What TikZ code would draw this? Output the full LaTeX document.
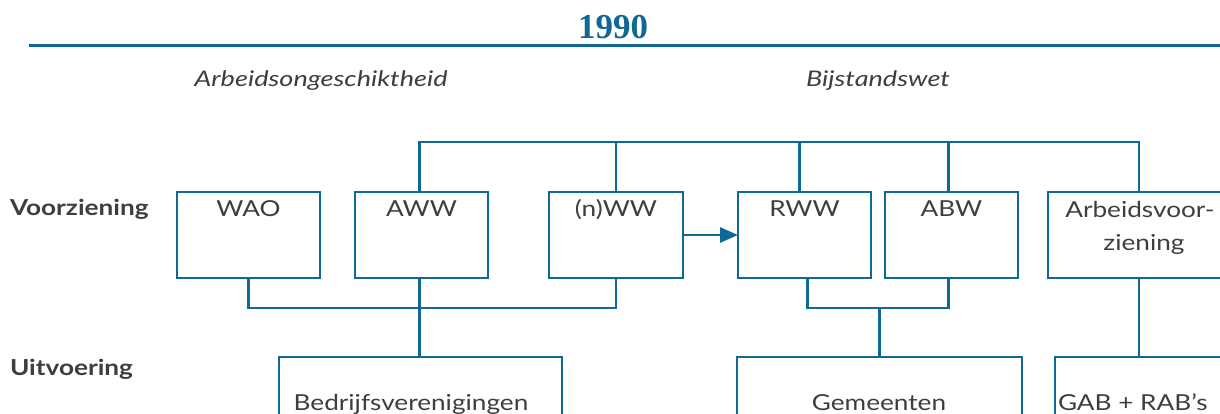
\documentclass[tikz,border=0pt]{standalone}
\usepackage{fontspec}
\setmainfont{Lato}[FakeStretch=1.19]
\newfontfamily\headfont{Lato}[FakeStretch=1.26]
\newfontfamily\titlefont{Liberation Serif}
\usetikzlibrary{arrows.meta,calc}
\definecolor{dblue}{HTML}{106994}
\definecolor{tgray}{HTML}{3E3E3E}
\begin{document}
\begin{tikzpicture}[x=1pt,y=-1pt,
  box/.style={draw=dblue, line width=2.9pt, minimum width=#1, minimum height=86pt,
    anchor=north west, inner sep=0pt, outer sep=0pt},
  lowbox/.style={draw=dblue, line width=2.9pt, minimum width=#1, minimum height=100pt,
    anchor=north west, inner sep=0pt, outer sep=0pt},
  conn/.style={draw=dblue, line width=2.9pt},
  txt/.style={text=tgray, inner sep=0pt, outer sep=0pt, font=\fontsize{22}{26}\selectfont},
  head/.style={text=tgray, inner sep=0pt, outer sep=0pt, font=\headfont\fontsize{21.5}{26}\selectfont\itshape},
  rowlab/.style={text=tgray, inner sep=0pt, outer sep=0pt, anchor=base west, font=\fontsize{22}{26}\selectfont\bfseries}]
\useasboundingbox (0,0) rectangle (1220,414);
\clip (0,0) rectangle (1220,414);
\fill[white] (0,0) rectangle (1220,414);

% title and rule
\node[anchor=base, text=dblue, inner sep=0pt, font=\titlefont\bfseries\fontsize{35}{36}\selectfont] (title) at (613,39) {1990};
\coordinate (ruleL) at (29,45.5);
\coordinate (ruleR) at (1225,45.5);
\draw[dblue, line width=3pt] (ruleL) -- (ruleR);

% headings
\node[head, anchor=base] (hA) at (321,87) {Arbeidsongeschiktheid};
\node[head, anchor=base] (hB) at (878,87) {Bijstandswet};

% row labels
\node[rowlab] (lv) at (10,215) {Voorziening};
\node[rowlab] (lu) at (10,375) {Uitvoering};

% upper boxes
\node[box=143pt] (wao) at (177,192) {};
\node[box=133pt] (aww) at (355,192) {};
\node[box=134pt] (nww) at (549,192) {};
\node[box=133pt] (rww) at (738,192) {};
\node[box=133pt] (abw) at (885,192) {};
\node[box=182pt] (arb) at (1048,192) {};

\node[txt, anchor=base] (waot) at ([yshift=-24pt]wao.north) {WAO};
\node[txt, anchor=base] (awwt) at ([yshift=-24pt]aww.north) {AWW};
\node[txt, anchor=base] (nwwt) at ([yshift=-24pt]nww.north) {(n)WW};
\node[txt, anchor=base] (rwwt) at ([yshift=-24pt]rww.north) {RWW};
\node[txt, anchor=base] (abwt) at ([yshift=-24pt]abw.north) {ABW};
\node[txt, anchor=base] (arbt1) at (1140,217) {Arbeidsvoor-};
\node[txt, anchor=base] (arbt2) at (1144,250) {ziening};

% lower boxes
\node[lowbox=283pt] (bedr) at (279,357) {};
\node[lowbox=285pt] (gem) at (737,357) {};
\node[lowbox=168pt] (gab) at (1055,357) {};

\node[txt, anchor=base] (bedrt) at (411,410) {Bedrijfsverenigingen};
\node[txt, anchor=base] (gemt) at (879,410) {Gemeenten};
\node[txt, anchor=base west] (gabt) at (1058,410) {GAB + RAB’s};

% bus coordinates
\coordinate (tb) at (0,142);
\coordinate (bb) at (0,308);

% top bus
\coordinate (awwN) at ([xshift=-2pt]aww.north);
\coordinate (rwwN) at ([xshift=-5pt]rww.north);
\coordinate (abwN) at ([xshift=-3pt]abw.north);
\draw[conn] (awwN) -- (awwN |- tb) -- (arb.north |- tb) -- (arb.north);
\draw[conn] (nww.north) -- (nww.north |- tb);
\draw[conn] (rwwN) -- (rwwN |- tb);
\draw[conn] (abwN) -- (abwN |- tb);

% bottom bus left
\coordinate (awwS) at ([xshift=-2pt]aww.south);
\draw[conn] (wao.south) -- (wao.south |- bb) -- (nww.south |- bb) -- (nww.south);
\draw[conn] (awwS) -- (awwS |- bedr.north);

% bottom bus right
\coordinate (rwwS) at ([xshift=3pt]rww.south);
\coordinate (abwS) at ([xshift=-3pt]abw.south);
\draw[conn] (rwwS) -- (rwwS |- bb) -- (abwS |- bb) -- (abwS);
\draw[conn] (gem.north |- bb) -- (gem.north);

% Arbeidsvoorziening to GAB
\draw[conn] (arb.south) -- (arb.south |- gab.north);

% arrow
\draw[conn, -{Triangle[length=18pt,width=15pt]}] (nww.east) -- (rww.west);
\end{tikzpicture}
\end{document}
